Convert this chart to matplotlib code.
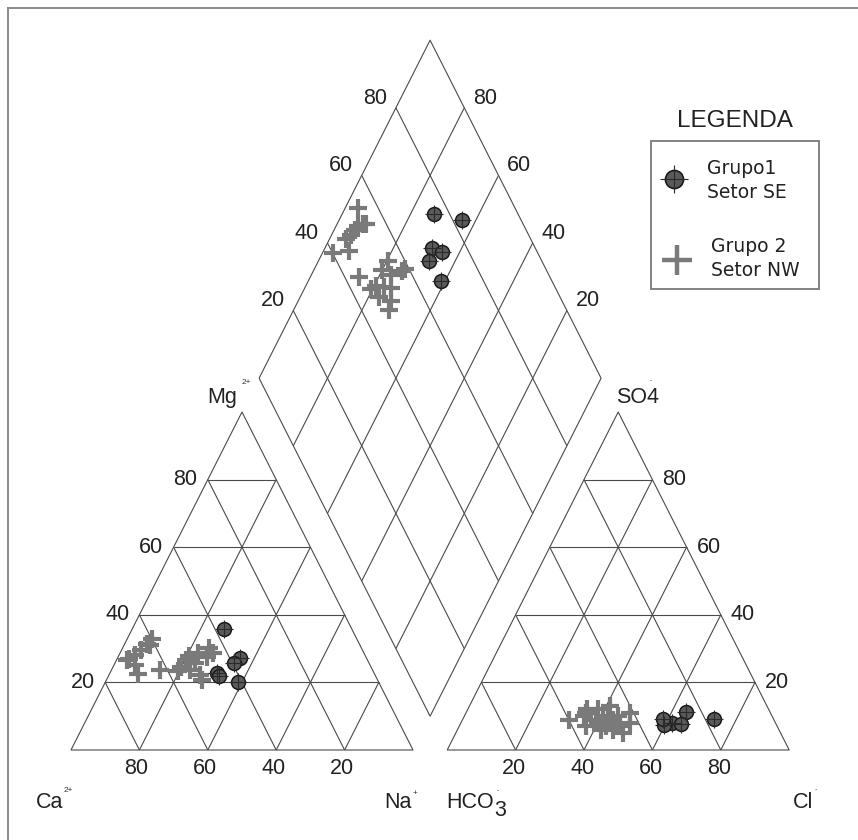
import matplotlib
matplotlib.use("Agg")
import matplotlib.pyplot as plt
import numpy as np

# ---- data (% meq/L) ----
# Grupo 1 - Setor SE
g1_ca   = [37.4, 36.9, 45.8, 39.4, 45.9, 41.2]
g1_mg   = [35.8, 27.1, 22.9, 25.8, 21.9, 20.1]
g1_na   = [26.8, 36.0, 31.3, 34.8, 32.2, 38.7]
g1_hco3 = [24.5, 17.3, 30.1, 27.8, 33.0, 32.4]
g1_so4  = [11.3, 9.1, 8.1, 7.7, 7.4, 9.1]
g1_cl   = [64.2, 73.6, 61.8, 64.5, 59.6, 58.5]

# Grupo 2 - Setor NW
g2_ca   = [70.4, 69.6, 67.2, 64.7, 68.7, 62.1, 59.9, 61.5, 69.1, 62.1, 57.0,
           55.4, 53.1, 51.6, 48.5, 53.3, 51.0, 44.5, 46.5, 51.2, 44.0, 51.4]
g2_mg   = [26.6, 26.8, 28.1, 29.6, 25.2, 31.4, 32.8, 31.0, 22.5, 23.7, 23.4,
           24.6, 26.6, 27.8, 28.6, 23.7, 25.6, 30.3, 27.6, 22.2, 28.7, 20.7]
g2_na   = [3.0, 3.6, 4.7, 5.7, 6.1, 6.5, 7.3, 7.5, 8.4, 14.2, 19.6,
           20.0, 20.3, 20.6, 22.9, 23.0, 23.4, 25.2, 25.9, 26.6, 27.3, 27.9]
g2_hco3 = [60.0, 46.0, 54.0, 52.0, 50.0, 48.5, 55.0, 47.0, 46.0, 56.0, 54.0,
           48.0, 45.0, 52.0, 53.0, 50.0, 46.0, 48.0, 42.5, 41.0, 50.0, 52.0]
g2_so4  = [9.0, 7.0, 11.0, 8.0, 12.0, 6.0, 10.0, 9.0, 13.0, 7.0, 11.0,
           8.0, 10.0, 6.0, 12.0, 9.0, 5.0, 10.0, 8.0, 11.0, 7.0, 9.0]
g2_cl   = [31.0, 47.0, 35.0, 40.0, 38.0, 45.5, 35.0, 44.0, 41.0, 37.0, 35.0,
           44.0, 45.0, 42.0, 35.0, 41.0, 49.0, 42.0, 49.5, 48.0, 43.0, 39.0]

TICKS = [20, 40, 60, 80]

# ---- geometry ----
GAP = 0.10
PX0, PY0, SX, SY = 71, 750, 342, 338   # pixel mapping of unit piper coords
W, H = 858, 840

LINE = "#4a4a4a"
FONT = "Liberation Sans"


def P(px, py):
    return (px - PX0) / SX, (PY0 - py) / SY


def cation_xy(na, mg):
    n, m = np.asarray(na) / 100, np.asarray(mg) / 100
    return n + m / 2, m


def anion_xy(cl, so4):
    c, s = np.asarray(cl) / 100, np.asarray(so4) / 100
    return 1 + GAP + c + s / 2, s


def dpt(n, q):
    n, q = np.asarray(n), np.asarray(q)
    return (n + 1 + GAP + q) / 2, 1 + GAP + q - n


def diamond_xy(na, cl, so4):
    return dpt(np.asarray(na) / 100, (np.asarray(cl) + np.asarray(so4)) / 100)


fig = plt.figure(figsize=(W / 100, H / 100), dpi=100, facecolor="white")
ax = fig.add_axes([0, 0, 1, 1])
x0, y1 = P(0, 0)
x1, y0 = P(W, H)
ax.set_xlim(x0, x1)
ax.set_ylim(y0, y1)
ax.axis("off")

kw = dict(color=LINE, lw=0.8, solid_capstyle="butt", zorder=1)


def tri_grid(ox):
    ax.plot([ox, ox + 1, ox + 0.5, ox], [0, 0, 1, 0], **kw)
    for v in TICKS:
        f = v / 100
        ax.plot([ox + f / 2, ox + 1 - f / 2], [f, f], **kw)
        ax.plot([ox + f, ox + (1 + f) / 2], [0, 1 - f], **kw)
        ax.plot([ox + f, ox + f / 2], [0, f], **kw)


tri_grid(0)
tri_grid(1 + GAP)

# diamond
corners = [(0, 0), (1, 0), (1, 1), (0, 1), (0, 0)]
dx, dy = dpt([c[0] for c in corners], [c[1] for c in corners])
ax.plot(dx, dy, **kw)
for v in TICKS:
    f = v / 100
    lx, ly = dpt([f, f], [0, 1])
    ax.plot(lx, ly, **kw)
    lx, ly = dpt([0, 1], [f, f])
    ax.plot(lx, ly, **kw)

# ---- tick labels ----
tkw = dict(fontsize=15.5, family=FONT, color="#222222",
           textcoords="offset points", ha="center", va="center")
for v in TICKS:
    f = v / 100
    ax.annotate(str(v), (f / 2, f), xytext=(-16, 0), **tkw)             # Mg
    ax.annotate(str(v), (1 - f, 0), xytext=(-2, -13), **tkw)            # Ca
    ax.annotate(str(v), (1 + GAP + 1 - f / 2, f), xytext=(16, 0), **tkw)  # SO4
    ax.annotate(str(v), (1 + GAP + f, 0), xytext=(-1, -13), **tkw)      # Cl
    ax.annotate(str(v), dpt(0, f), xytext=(-15, 7), **tkw)              # SO4+Cl
    ax.annotate(str(v), dpt(1 - f, 1), xytext=(15, 7), **tkw)           # Ca+Mg

# ---- corner labels ----
lk = dict(fontsize=15.5, family=FONT, color="#222222", ha="center", va="center")
sk = dict(fontsize=6, family=FONT, color="#333333", ha="center", va="center")
ax.text(*P(50, 803), "Ca", **lk)
ax.text(*P(68, 791), "2+", **sk)
ax.text(*P(398, 803), "Na", **lk)
ax.text(*P(415, 794), "+", **sk)
ax.text(*P(446, 803), "HCO", fontsize=15.5, family=FONT, color="#222222",
        ha="left", va="center")
ax.text(*P(494, 810), "3", fontsize=15.5, family=FONT, color="#222222",
        ha="left", va="center")
ax.text(*P(498, 791), "-", fontsize=5, family=FONT, color="#555555",
        ha="center", va="center")
ax.text(*P(803, 803), "Cl", **lk)
ax.text(*P(816, 790), "-", fontsize=5, family=FONT, color="#555555",
        ha="center", va="center")
ax.text(*P(222, 397), "Mg", **lk)
ax.text(*P(246, 383), "2+", **sk)
ax.text(*P(638, 397), "SO4", **lk)
ax.text(*P(651, 381), "-", fontsize=5, family=FONT, color="#555555",
        ha="center", va="center")

# ---- samples ----
p2 = dict(ls="none", marker="+", ms=12.5, mew=3.0, color="#7a7a7a", zorder=3)
c1 = dict(ls="none", marker="o", ms=10, mfc="#5a5a5a", mec="#1a1a1a",
          mew=1.1, zorder=4)
x1c = dict(ls="none", marker="+", ms=13, mew=0.8, color="#2a2a2a", zorder=5)

for fn, args2, args1 in [
    (cation_xy, (g2_na, g2_mg), (g1_na, g1_mg)),
    (anion_xy, (g2_cl, g2_so4), (g1_cl, g1_so4)),
    (diamond_xy, (g2_na, g2_cl, g2_so4), (g1_na, g1_cl, g1_so4)),
]:
    ax.plot(*fn(*args2), **p2)
    px_, py_ = fn(*args1)
    ax.plot(px_, py_, **c1)
    ax.plot(px_, py_, **x1c)

# ---- legend ----
bx0, by0 = P(651, 289)
bx1, by1 = P(819, 141)
ax.add_patch(plt.Rectangle((bx0, by0), bx1 - bx0, by1 - by0, fill=False,
                           edgecolor="#7a7a7a", lw=1.3, zorder=2))
ax.text(*P(735, 121), "LEGENDA", fontsize=17.5, family=FONT, color="#222222",
        ha="center", va="center")
lx, ly = P(674, 179)
ax.plot([lx], [ly], ls="none", marker="o", ms=13, mfc="#5a5a5a",
        mec="#1a1a1a", mew=1.2, zorder=4)
ax.plot([lx], [ly], ls="none", marker="+", ms=20, mew=0.8, color="#2a2a2a",
        zorder=5)
lx, ly = P(677, 260)
ax.plot([lx], [ly], ls="none", marker="+", ms=21, mew=3.2, color="#7a7a7a",
        zorder=4)
ek = dict(fontsize=13.5, family="DejaVu Sans", color="#222222",
          ha="left", va="center")
ax.text(*P(707, 168), "Grupo1", **ek)
ax.text(*P(707, 192), "Setor SE", **ek)
ax.text(*P(711, 246), "Grupo 2", **ek)
ax.text(*P(711, 270), "Setor NW", **ek)

# ---- outer frame (top and left edges visible) ----
fx, fy = P(8, 8)
ex, ey = P(W + 5, H + 5)
ax.plot([fx, ex], [fy, fy], color="#8a8a8a", lw=1.4, clip_on=False)
ax.plot([fx, fx], [fy, ey], color="#8a8a8a", lw=1.4, clip_on=False)

fig.savefig("out.png", dpi=100, facecolor="white")
